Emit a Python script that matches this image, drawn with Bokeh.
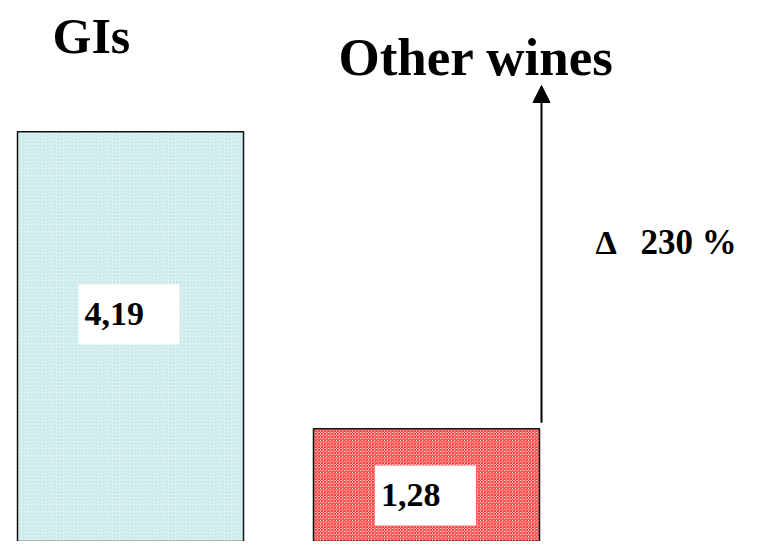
from bokeh.plotting import figure
from bokeh.models import Arrow, NormalHead
from bokeh.core.properties import value
from bokeh.embed import file_html
from bokeh.resources import INLINE

# ---- data ----
categories = ["GIs", "Other wines"]
values = [4.19, 1.28]
value_labels = ["4,19", "1,28"]
delta_symbol = "\u0394"
change_label = "230 %"

# ---- layout helpers (picture pixel -> data) ----
W, H = 742, 541
OFF = 0
PX0, PXU = 130.0, 296.0     # screen x of first bar centre, px per category step
PY0, PYU = 559.0, 102.1     # screen y of baseline, px per unit
TXT = -12                   # text baseline correction (px)

def dx(sx):
    return (sx - PX0) / PXU

def dy(sy):
    return (PY0 - sy) / PYU

p = figure(width=W, height=H, output_backend="svg", toolbar_location=None,
           x_range=(dx(OFF), dx(OFF + W)), y_range=(dy(OFF + H), dy(OFF)),
           min_border=0)
p.axis.visible = False
p.grid.visible = False
p.outline_line_color = None
p.background_fill_color = "white"
p.border_fill_color = "white"

FONT = value("Liberation Serif")
bar_w = 226.0 / PXU

styles = [
    dict(fill_color="#f2fbfb", hatch_pattern="right_diagonal_line", hatch_color="#b4e0e0",
         hatch_scale=3.5, hatch_weight=0.9),
    dict(fill_color="#ffffff", hatch_pattern="diagonal_cross", hatch_color="#ff3c3c",
         hatch_scale=3.2, hatch_weight=1.3),
]
for i, (v, st) in enumerate(zip(values, styles)):
    p.vbar(x=[i], top=[v], bottom=0, width=bar_w, line_color="#111111", line_width=1.5, **st)

# value label boxes
label_boxes = [(128.5, 314), (425.0, 495)]
for (bx, by), lab in zip(label_boxes, value_labels):
    p.rect(x=[dx(bx)], y=[dy(by)], width=101, height=60, width_units="screen",
           height_units="screen", fill_color="white", line_color=None)
    p.text(x=[dx(bx - 44.5)], y=[dy(by + 11 + TXT)], text=[lab], text_font=FONT,
           text_font_style="bold", text_font_size="34px", text_color="black",
           text_baseline="alphabetic", text_align="left")

# category titles
title_pos = [(52, 47, "50px"), (338, 68, "53px")]
for (tx, ty, fs), cat in zip(title_pos, categories):
    p.text(x=[dx(tx)], y=[dy(ty + TXT)], text=[cat], text_font=FONT, text_font_style="bold",
           text_font_size=fs, text_color="black", text_baseline="alphabetic",
           text_align="left")

# arrow
ax = dx(541)
p.add_layout(Arrow(x_start=ax, y_start=values[1] + 6 / PYU, x_end=ax, y_end=dy(85),
                   line_width=2, line_color="black",
                   end=NormalHead(size=17, fill_color="black", line_color="black")))

# delta text
p.text(x=[dx(595)], y=[dy(254 + TXT)], text=[delta_symbol], text_font=FONT,
       text_font_style="bold", text_font_size="34px", text_color="black",
       text_baseline="alphabetic", text_align="left")
p.text(x=[dx(640)], y=[dy(254 + TXT)], text=[change_label], text_font=FONT,
       text_font_style="bold", text_font_size="35px", text_color="black",
       text_baseline="alphabetic", text_align="left")

open("out.html", "w").write(file_html(p, INLINE))
